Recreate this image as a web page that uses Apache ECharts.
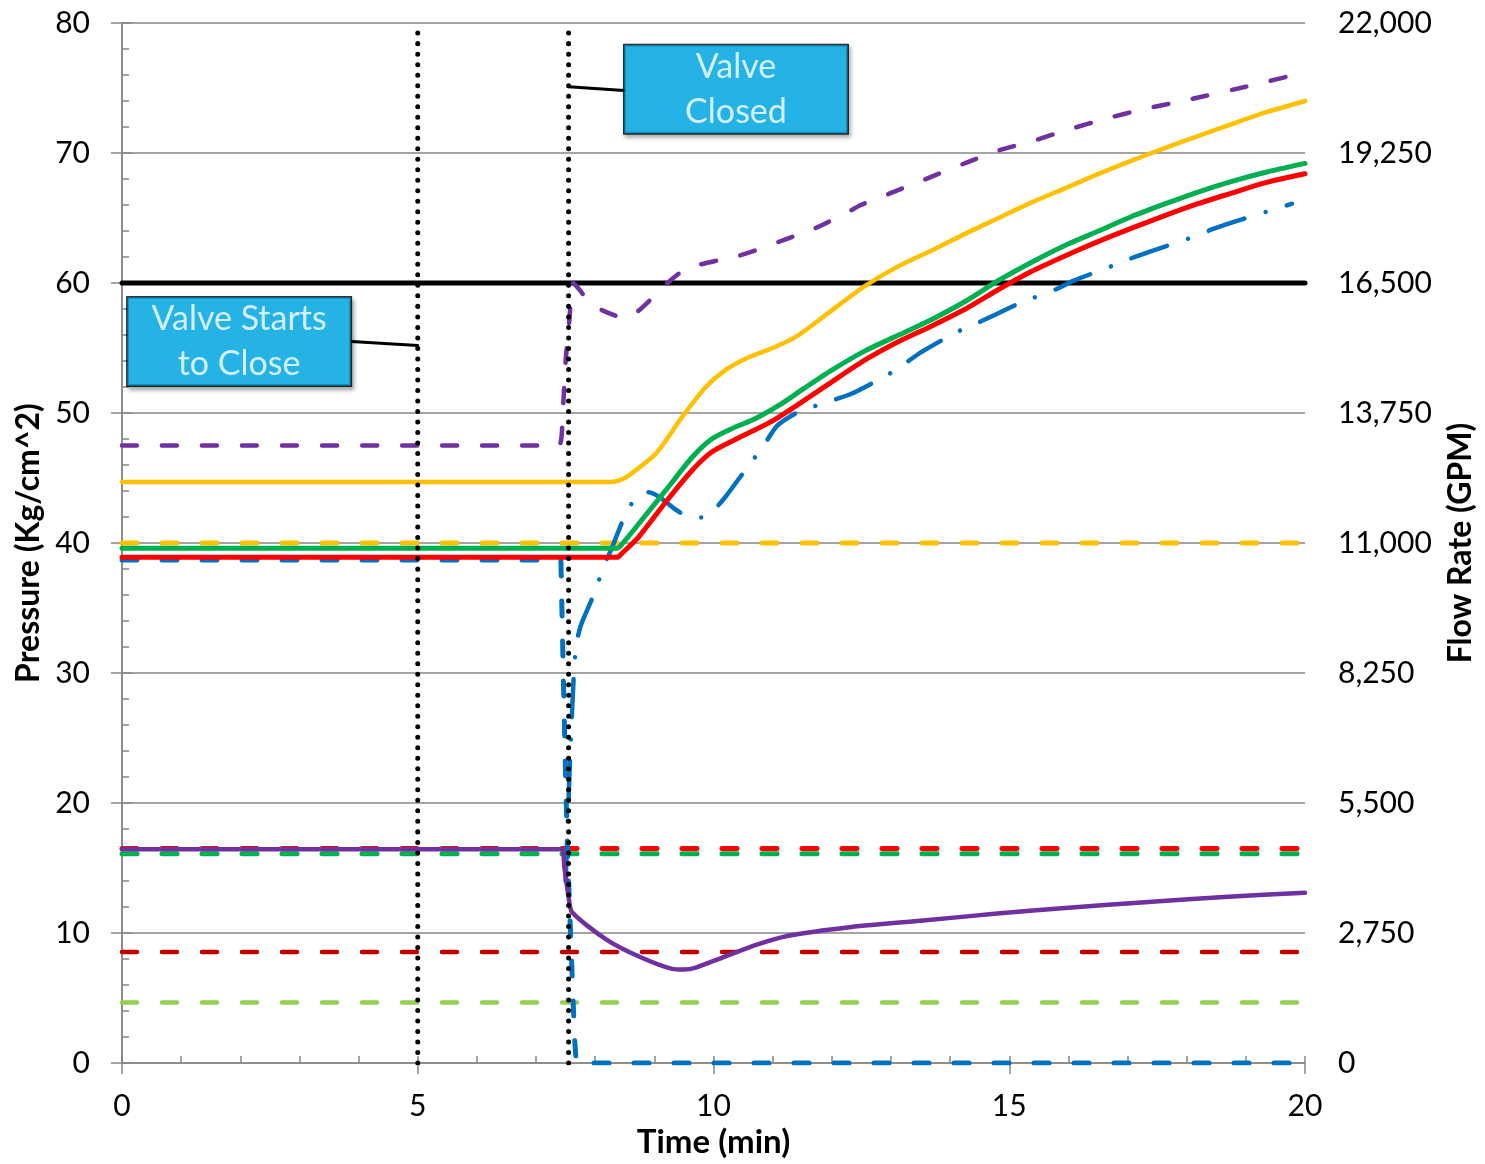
<!DOCTYPE html>
<html>
<head>
<meta charset="utf-8">
<script src="https://cdn.jsdelivr.net/npm/echarts@6/dist/echarts.min.js"></script>
<style>
html,body{margin:0;padding:0;background:#fff;overflow:hidden;width:100%;height:100%;}
#chart{position:absolute;left:0;top:0;width:100vw;height:100vh;}
</style>
</head>
<body>
<div id="chart"></div>
<script>
// ---------- data ----------
const xTicks = [0, 5, 10, 15, 20];
const leftTicks = [0, 10, 20, 30, 40, 50, 60, 70, 80];
const rightTickLabels = ['0', '2,750', '5,500', '8,250', '11,000', '13,750', '16,500', '19,250', '22,000'];

const limitLine = [[0, 60], [20, 60]];
const yellowDashed = [[0, 40.0], [20, 40.0]];
const redDashed = [[0, 16.5], [20, 16.5]];
const greenDashed = [[0, 16.1], [20, 16.1]];
const darkRedDashed = [[0, 8.55], [20, 8.55]];
const lightGreenDashed = [[0, 4.66], [20, 4.66]];

const valveStartLine = [[5, 0], [5, 80]];
const valveClosedLine = [[7.55, 0], [7.55, 80]];

const yellowSolid = [[0,44.7],[8.27,44.7],[8.4,44.8],[8.57,45.2],[9.03,46.9],[9.47,49.7],[9.87,52.0],[10.2,53.3],[10.55,54.2],[11.0,55.0],[11.44,56.0],[12.0,57.9],[12.57,59.8],[13.13,61.3],[13.69,62.5],[14.26,63.8],[14.82,65.0],[15.38,66.2],[15.95,67.3],[16.51,68.4],[17.06,69.4],[17.64,70.4],[18.19,71.3],[18.75,72.2],[19.32,73.1],[20,74.0]];

const greenSolid = [[0,39.6],[8.37,39.6],[8.45,39.9],[8.74,41.5],[9.2,44.1],[9.64,46.6],[9.97,48.0],[10.31,48.8],[10.72,49.6],[11.11,50.6],[11.5,51.8],[12.0,53.3],[12.57,54.8],[13.13,56.0],[13.69,57.2],[14.26,58.6],[14.82,60.2],[15.38,61.6],[15.95,62.9],[16.51,64.0],[17.06,65.1],[17.64,66.1],[18.19,67.0],[18.75,67.8],[19.32,68.5],[20,69.2]];

const redSolid = [[0,38.9],[8.37,38.9],[8.45,39.2],[8.74,40.5],[9.2,43.2],[9.64,45.6],[9.97,47.0],[10.43,48.1],[11.0,49.4],[11.61,51.2],[12.0,52.4],[12.57,54.1],[13.13,55.5],[13.69,56.7],[14.26,58.0],[14.82,59.5],[15.38,60.9],[15.95,62.1],[16.51,63.2],[17.06,64.2],[17.64,65.2],[18.19,66.1],[18.75,66.9],[19.32,67.7],[20,68.4]];

const purpleDashed = [[0,47.5],[7.38,47.5],[7.45,50.0],[7.5,54.0],[7.56,57.0],[7.63,60.0],[7.75,59.4],[7.9,58.5],[8.12,57.9],[8.5,57.3],[8.74,57.9],[9.0,59.0],[9.22,60.0],[9.47,60.9],[9.76,61.4],[10.13,61.8],[10.43,62.1],[10.77,62.6],[11.24,63.4],[11.66,64.1],[11.9,64.6],[12.29,65.5],[12.49,66.0],[13.1,67.1],[13.7,68.2],[14.3,69.3],[14.82,70.2],[15.38,70.9],[16.0,71.8],[16.68,72.7],[17.3,73.4],[18.03,74.1],[19.0,75.1],[20,76.2]];

const purpleSolid = [[0,16.45],[7.42,16.45],[7.48,15.0],[7.55,12.8],[7.61,11.6],[8.19,9.5],[8.74,8.2],[9.3,7.25],[9.5,7.2],[9.7,7.35],[10.14,8.1],[10.72,9.1],[11.27,9.8],[12.3,10.45],[13.5,10.95],[14.8,11.5],[16.0,11.95],[17.35,12.4],[18.7,12.8],[20,13.1]];

const blueDashed = [[0,38.7],[7.42,38.7],[7.46,30.0],[7.5,22.0],[7.52,18.4],[7.55,14.0],[7.6,8.0],[7.65,2.0],[7.68,0],[20,0]];

const blueDashDot = [[7.5,14.0],[7.58,24.0],[7.64,30.0],[7.68,32.2],[7.76,33.7],[8.02,36.5],[8.12,38.0],[8.27,39.5],[8.52,42.3],[8.71,43.6],[8.9,43.9],[9.1,43.5],[9.35,42.6],[9.62,41.95],[9.85,42.0],[10.0,42.5],[10.21,43.6],[10.6,46.0],[10.82,47.3],[11.07,49.0],[11.44,50.1],[11.9,50.8],[12.34,51.5],[12.93,52.9],[13.2,53.7],[13.52,54.7],[14.1,56.2],[14.45,56.9],[14.78,57.6],[15.2,58.5],[15.78,59.5],[16.1,60.2],[16.73,61.3],[17.06,61.9],[17.43,62.5],[18.08,63.5],[18.41,64.1],[18.8,64.7],[19.43,65.6],[19.78,66.1]];

const startNote = { text: 'Valve Starts\nto Close', anchor: [1.98, 55.5], connector: [[3.88, 55.5], [5, 55.2]] };
const closedNote = { text: 'Valve\nClosed', anchor: [10.38, 74.9], connector: [[7.55, 75.1], [8.49, 74.8]] };

// ---------- chart ----------
const FONT = 'Lato';
const AX = '#868686';
const chart = echarts.init(document.getElementById('chart'), null, { renderer: 'canvas' });
const W = chart.getWidth(), H = chart.getHeight();

function line(name, data, color, width, type, z, smooth) {
  return {
    name, type: 'line', data, xAxisIndex: 0, yAxisIndex: 0,
    showSymbol: false, symbol: 'none', z: z || 2,
    smooth: smooth === undefined ? 0 : smooth,
    lineStyle: { color, width, type: type || 'solid', cap: 'round', join: 'round' },
    silent: true, animation: false
  };
}
function note(n) {
  return {
    type: 'scatter', data: [n.anchor], symbolSize: 1, z: 20, silent: true, animation: false,
    itemStyle: { color: 'rgba(0,0,0,0)' },
    label: {
      show: true, position: 'inside', formatter: n.text,
      color: '#fff', fontFamily: FONT, fontSize: 34, lineHeight: 45,
      backgroundColor: '#00B0F0', borderColor: '#000', borderWidth: 1.5,
      width: 223, height: 88, align: 'center', verticalAlign: 'middle',
      shadowBlur: 4, shadowColor: 'rgba(0,0,0,0.35)', shadowOffsetX: 2, shadowOffsetY: 3
    }
  };
}

const dash = [15, 25];
const option = {
  animation: false,
  backgroundColor: '#fff',
  grid: { left: 122, top: 23, right: Math.max(60, W - 1307), bottom: Math.max(60, H - 1071), containLabel: false },
  xAxis: [
    {
      type: 'value', min: 0, max: 20, interval: 5, position: 'bottom',
      name: 'Time (min)', nameLocation: 'middle', nameGap: 56,
      nameTextStyle: { fontFamily: FONT, fontSize: 33, fontWeight: 'bold', color: '#000' },
      axisLine: { show: true, lineStyle: { color: AX, width: 1.5 } },
      axisTick: { show: true, inside: false, length: 11, lineStyle: { color: AX, width: 1.5 } },
      axisLabel: { fontFamily: FONT, fontSize: 30, color: '#000', margin: 28,
        formatter: v => xTicks.includes(v) ? String(v) : '' },
      splitLine: { show: false }
    },
    {
      type: 'value', min: 0, max: 20, interval: 1, position: 'bottom',
      axisLine: { show: false },
      axisTick: { show: true, inside: true, length: 7, lineStyle: { color: AX, width: 1.5 } },
      axisLabel: { show: false }, splitLine: { show: false }
    }
  ],
  yAxis: [
    {
      type: 'value', min: 0, max: 80, interval: 10, position: 'left',
      name: 'Pressure (Kg/cm^2)', nameLocation: 'middle', nameGap: 74, nameRotate: 90,
      nameTextStyle: { fontFamily: FONT, fontSize: 32, fontWeight: 'bold', color: '#000' },
      axisLine: { show: true, lineStyle: { color: AX, width: 1.5 } },
      axisTick: { show: true, inside: false, length: 11, lineStyle: { color: AX, width: 1.5 } },
      axisLabel: { fontFamily: FONT, fontSize: 30, color: '#000', margin: 32,
        formatter: v => leftTicks.includes(v) ? String(v) : '' },
      splitLine: { show: true, lineStyle: { color: AX, width: 1.5 } }
    },
    {
      type: 'value', min: 0, max: 22000, interval: 2750, position: 'right',
      name: 'Flow Rate (GPM)', nameLocation: 'middle', nameGap: 140, nameRotate: 90,
      nameTextStyle: { fontFamily: FONT, fontSize: 32, fontWeight: 'bold', color: '#000' },
      axisLine: { show: true, lineStyle: { color: AX, width: 1.5 } },
      axisTick: { show: true, inside: false, length: 10, lineStyle: { color: AX, width: 1.5 } },
      axisLabel: { fontFamily: FONT, fontSize: 30, color: '#000', margin: 33,
        formatter: v => rightTickLabels[Math.round(v / 2750)] },
      splitLine: { show: false }
    },
    {
      type: 'value', min: 0, max: 80, interval: 2, position: 'left',
      axisLine: { show: false },
      axisTick: { show: true, inside: true, length: 7, lineStyle: { color: AX, width: 1.5 } },
      axisLabel: { show: false }, splitLine: { show: false }
    }
  ],
  series: [
    line('Yellow dashed', yellowDashed, '#FFC000', 5, dash, 3),
    line('Red dashed', redDashed, '#FF0000', 5, dash, 3),
    line('Green dashed', greenDashed, '#00B050', 5, dash, 3),
    line('Dark red dashed', darkRedDashed, '#C00000', 4.5, dash, 3),
    line('Light green dashed', lightGreenDashed, '#92D050', 4.5, dash, 3),
    line('Limit', limitLine, '#000000', 5, 'solid', 4),
    line('Blue dashed', blueDashed, '#0070C0', 5, dash, 5, 0),
    line('Blue dash-dot', blueDashDot, '#0070C0', 4.5, [38, 22, 0.01, 22], 5, 0.2),
    line('Purple dashed', purpleDashed, '#7030A0', 4.5, dash, 6, 0.2),
    line('Yellow', yellowSolid, '#FFC000', 4.5, 'solid', 6, 0.25),
    line('Green', greenSolid, '#00B050', 5, 'solid', 7, 0.25),
    line('Red', redSolid, '#FF0000', 5, 'solid', 8, 0.25),
    line('Purple', purpleSolid, '#7030A0', 4.5, 'solid', 9, 0.25),
    line('Valve starts', valveStartLine, '#000000', 5, [0.01, 10.5], 10),
    line('Valve closed', valveClosedLine, '#000000', 5, [0.01, 10.5], 10),
    line('Start connector', startNote.connector, '#000000', 3, 'solid', 11),
    line('Closed connector', closedNote.connector, '#000000', 3, 'solid', 11),
    note(startNote),
    note(closedNote)
  ]
};
chart.setOption(option);
</script>
</body>
</html>
